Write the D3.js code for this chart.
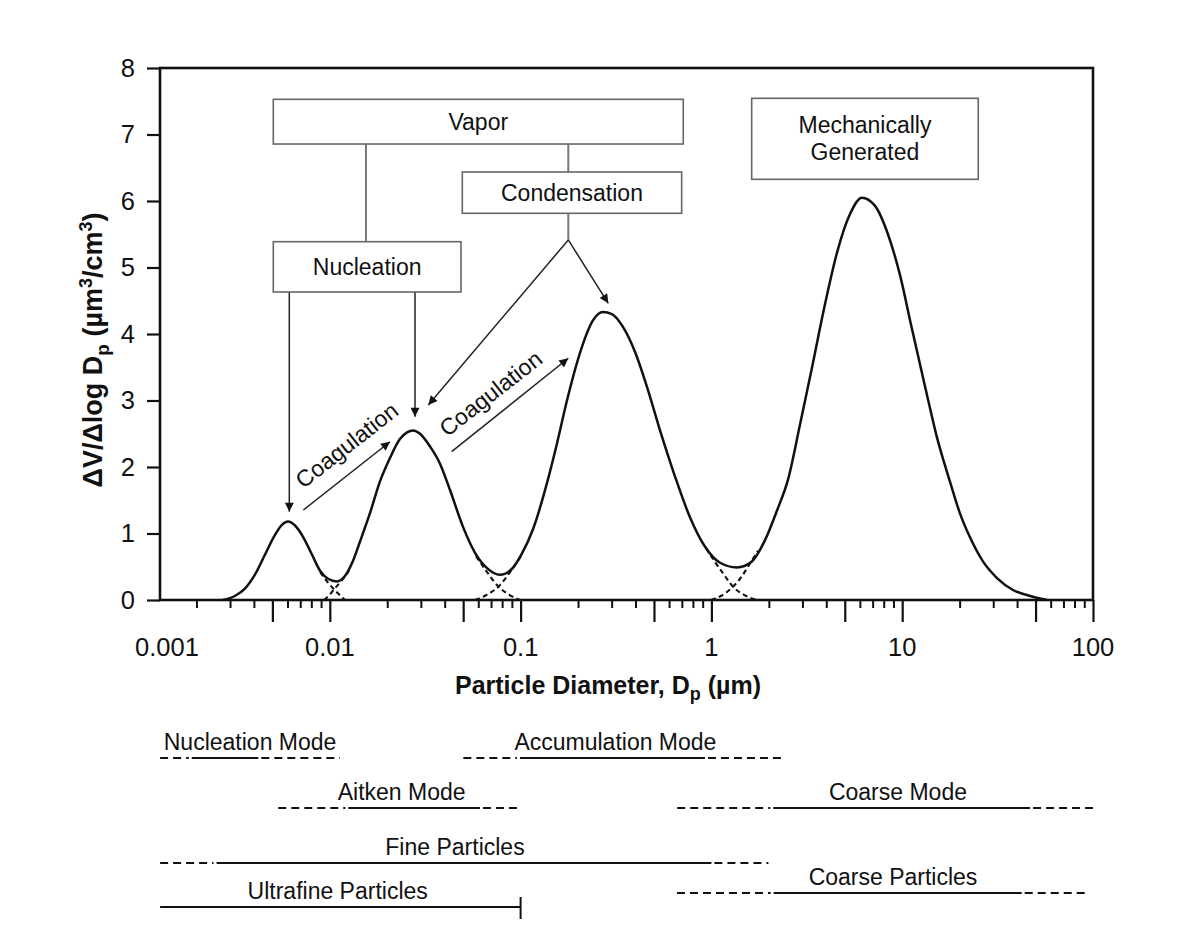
<!DOCTYPE html>
<html><head><meta charset="utf-8">
<script src="https://cdn.jsdelivr.net/npm/d3@7"></script>
<style>
body{margin:0;background:#fff}
svg{display:block}
text{font-family:"Liberation Sans",Arial,Helvetica,sans-serif;fill:#111}
</style>
</head><body>
<svg id="chart" width="1200" height="948"></svg>
<script>
// ---------------- DATA ----------------
// Total volume distribution (solid curve): diameter (µm) and ΔV/Δlog Dp
const diameters = [0.00275,0.00318,0.00359,0.00405,0.00457,0.00516,0.00561,0.00604,0.00657,0.00724,
  0.00807,0.00889,0.00978,0.0109,0.0120,0.0131,0.0144,0.0163,0.0183,0.0207,
  0.0233,0.0254,0.0273,0.0297,0.0335,0.0378,0.0427,0.0499,0.0577,0.0667,
  0.0780,0.0902,0.1017,0.116,0.139,0.155,0.175,0.205,0.239,0.270,
  0.301,0.340,0.398,0.466,0.538,0.644,0.773,0.926,1.11,1.36,
  1.63,1.91,2.21,2.52,2.91,3.37,3.94,4.55,5.32,6.15,
  7.19,8.42,9.77,11.2,13.2,15.2,17.8,20.1,22.6,26.5,
  31.4,38.1,48.4,57.4];
const volume = [0.0,0.06,0.17,0.38,0.68,0.98,1.13,1.18,1.12,0.95,
  0.68,0.44,0.32,0.28,0.36,0.56,0.88,1.32,1.78,2.14,
  2.42,2.52,2.55,2.50,2.31,2.05,1.65,1.10,0.71,0.48,
  0.38,0.47,0.70,1.06,1.81,2.35,3.0,3.72,4.20,4.33,
  4.30,4.13,3.73,3.15,2.55,1.86,1.24,0.80,0.56,0.49,
  0.58,0.90,1.35,1.81,2.63,3.50,4.45,5.22,5.80,6.05,
  5.93,5.50,4.87,4.10,3.20,2.45,1.78,1.30,0.95,0.58,
  0.33,0.15,0.05,0.0];
// Dashed individual-mode tails where modes overlap: [diameter, value]
const modeTails = [
  [[0.00889,0.42],[0.00967,0.28],[0.01052,0.16],[0.01131,0.07],[0.0120,0.0]],
  [[0.00933,0.0],[0.00991,0.07],[0.01052,0.16],[0.01145,0.28],[0.0126,0.44]],
  [[0.0584,0.66],[0.0667,0.42],[0.0761,0.21],[0.0869,0.08],[0.0993,0.0]],
  [[0.0577,0.0],[0.0667,0.08],[0.0771,0.21],[0.088,0.42],[0.1017,0.68]],
  [[0.937,0.78],[1.057,0.55],[1.178,0.36],[1.298,0.20],[1.50,0.07],[1.733,0.0]],
  [[0.995,0.0],[1.136,0.07],[1.298,0.20],[1.446,0.36],[1.593,0.55],[1.754,0.74]]
];
// Axes
const yTicks = [0,1,2,3,4,5,6,7,8];
const xLabelValues = [0.001,0.01,0.1,1,10,100];
const xLabels = ["0.001","0.01","0.1","1","10","100"];
const xMajorTicks = [0.005,0.01,0.05,0.1,0.5,1,5,10,50,100];
const xMinorTicks = [0.002,0.003,0.004,0.006,0.007,0.008,0.009,
  0.02,0.03,0.04,0.06,0.07,0.08,0.09,
  0.2,0.3,0.4,0.6,0.7,0.8,0.9,
  2,3,4,6,7,8,9,
  20,30,40,60,70,80,90];
// Annotation boxes: [dLeft, dRight, vTop, vBottom]
const boxNames = ["Vapor","Nucleation","Condensation","Mechanically|Generated"];
const boxExtents = [[0.005056,0.7121,7.529,6.857],[0.005056,0.04869,5.388,4.632],
  [0.04948,0.6984,6.436,5.815],[1.626,25.04,7.544,6.326]];
// Connector lines (no arrow): [d1,v1,d2,v2]
const connectors = [[0.01547,6.857,0.01547,5.388],[0.1778,6.857,0.1778,6.436],[0.1778,5.815,0.1778,5.414]];
// Arrows: [d1,v1,d2,v2] (head at 2nd point)
const arrows = [[0.1778,5.414,0.03283,2.932],[0.1778,5.414,0.2881,4.462],
  [0.006133,4.632,0.006133,1.328],[0.02796,4.632,0.02796,2.756],
  [0.007261,1.353,0.02067,2.380],[0.04352,2.230,0.1778,3.635]];
const coagLabelAt = [[0.01226,2.331],[0.06968,3.108]];
// Size-range bars below the axis: [dashStart, solidStart, solidEnd, dashEnd]
const rangeNames = ["Nucleation Mode","Accumulation Mode","Aitken Mode","Coarse Mode","Fine Particles","Coarse Particles","Ultrafine Particles"];
const rangeBounds = [[0.00129,0.00189,0.00422,0.0113],[0.0501,0.0993,0.925,2.33],
  [0.00537,0.0125,0.0612,0.1],[0.662,2.11,46.8,100],[0.00129,0.00255,1.0,1.99],
  [0.66,2.12,42.3,94.5],[0.00129,0.00129,0.1,0.1]];
const rangeLabelAt = [0.00382,0.314,0.0238,9.50,0.0453,8.95,0.0110];

// ---------------- LAYOUT ----------------
const svg = d3.select("#chart");
const L = 160, R = 1093, T = 68, B = 600;
const x = d3.scaleLog().domain([Math.pow(10,-2.89),100]).range([L,R]);
const y = d3.scaleLinear().domain([0,8]).range([B,T]);

// defs: arrowhead
svg.append("defs").append("marker").attr("id","ah").attr("viewBox","0 0 10 10")
  .attr("refX",10).attr("refY",5).attr("markerWidth",11).attr("markerHeight",9)
  .attr("markerUnits","userSpaceOnUse").attr("orient","auto")
  .append("path").attr("d","M0,0 L10,5 L0,10 z").attr("fill","#111");

// Y axis
const yAxis = svg.append("g").attr("transform",`translate(${L},0)`)
  .call(d3.axisLeft(y).tickValues(yTicks).tickSize(13).tickPadding(12).tickFormat(d3.format("d")));
yAxis.select(".domain").remove();
yAxis.selectAll("line").attr("stroke","#111").attr("stroke-width",2.2);
yAxis.selectAll("text").style("font-size","25.5px").style("font-family","'Liberation Sans',Arial,sans-serif").attr("fill","#111");

// X axis major and minor ticks
const xMaj = svg.append("g").attr("transform",`translate(0,${B})`)
  .call(d3.axisBottom(x).tickValues(xMajorTicks).tickSize(22).tickFormat(""));
xMaj.select(".domain").remove();
xMaj.selectAll("line").attr("stroke","#111").attr("stroke-width",2.2);
const xMin = svg.append("g").attr("transform",`translate(0,${B})`)
  .call(d3.axisBottom(x).tickValues(xMinorTicks).tickSize(8).tickFormat(""));
xMin.select(".domain").remove();
xMin.selectAll("line").attr("stroke","#111").attr("stroke-width",2);

svg.append("g").selectAll("text").data(xLabelValues).join("text")
  .attr("x",(d)=>Math.max(x(d),L+7)).attr("y",656).attr("text-anchor","middle")
  .style("font-size","25.5px").text((d,i)=>xLabels[i]);

// frame
svg.append("rect").attr("x",L).attr("y",T).attr("width",R-L).attr("height",B-T)
  .attr("fill","none").attr("stroke","#111").attr("stroke-width",2.6);

// Axis titles
const xt = svg.append("text").attr("x",608).attr("y",694).attr("text-anchor","middle")
  .style("font-size","25px").style("font-weight","bold");
xt.append("tspan").text("Particle Diameter, D");
xt.append("tspan").attr("dy",6).style("font-size","18px").text("p");
xt.append("tspan").attr("dy",-6).text(" (µm)");

const yt = svg.append("text").attr("transform","translate(102,350) rotate(-90)").attr("text-anchor","middle")
  .style("font-size","27px").style("font-weight","bold");
yt.append("tspan").text("ΔV/Δlog D");
yt.append("tspan").attr("dy",7).style("font-size","19px").text("p");
yt.append("tspan").attr("dy",-7).text(" (µm");
yt.append("tspan").attr("dy",-10).style("font-size","18px").text("3");
yt.append("tspan").attr("dy",10).text("/cm");
yt.append("tspan").attr("dy",-10).style("font-size","18px").text("3");
yt.append("tspan").attr("dy",10).text(")");

// Curves
const line = d3.line().x(d=>x(d[0])).y(d=>y(d[1])).curve(d3.curveMonotoneX);
svg.append("g").selectAll("path").data(modeTails).join("path")
  .attr("d",line).attr("fill","none").attr("stroke","#111").attr("stroke-width",2.1)
  .attr("stroke-dasharray","5,3.5");
svg.append("path").datum(d3.zip(diameters,volume)).attr("d",line)
  .attr("fill","none").attr("stroke","#111").attr("stroke-width",2.5);

// Annotation connectors and arrows
svg.append("g").selectAll("line").data(connectors).join("line")
  .attr("x1",d=>x(d[0])).attr("y1",d=>y(d[1])).attr("x2",d=>x(d[2])).attr("y2",d=>y(d[3]))
  .attr("stroke","#777").attr("stroke-width",2);
svg.append("g").selectAll("line").data(arrows).join("line")
  .attr("x1",d=>x(d[0])).attr("y1",d=>y(d[1])).attr("x2",d=>x(d[2])).attr("y2",d=>y(d[3]))
  .attr("stroke","#222").attr("stroke-width",1.5).attr("marker-end","url(#ah)");

// Boxes
const boxes = svg.append("g").selectAll("g").data(boxExtents).join("g");
boxes.append("rect").attr("x",d=>x(d[0])).attr("y",d=>y(d[2]))
  .attr("width",d=>x(d[1])-x(d[0])).attr("height",d=>y(d[3])-y(d[2]))
  .attr("fill","#fff").attr("stroke","#666").attr("stroke-width",1.6);
boxes.each(function(d,i){
  const parts = boxNames[i].split("|");
  const cx = (x(d[0])+x(d[1]))/2, cy = (y(d[2])+y(d[3]))/2;
  const t = d3.select(this).append("text").attr("text-anchor","middle").style("font-size","23px");
  parts.forEach((p,k)=>{
    t.append("tspan").attr("x",cx).attr("y",cy + 8 + (k-(parts.length-1)/2)*27).text(p);
  });
});

// Coagulation labels
svg.append("g").selectAll("text").data(coagLabelAt).join("text")
  .attr("transform",d=>`translate(${x(d[0])},${y(d[1])}) rotate(-38)`)
  .attr("text-anchor","middle").attr("dy","0.35em").style("font-size","23px").text("Coagulation");

// Size ranges
const rowY = [758,758,808,808,863,893,907];
const rows = svg.append("g").selectAll("g").data(rangeBounds).join("g");
rows.append("line").attr("x1",d=>x(d[0])).attr("x2",d=>x(d[1])-3).attr("y1",(d,i)=>rowY[i]).attr("y2",(d,i)=>rowY[i])
  .attr("stroke","#111").attr("stroke-width",2).attr("stroke-dasharray","8,5")
  .attr("display",d=>d[1]>d[0]?null:"none");
rows.append("line").attr("x1",d=>x(d[1])).attr("x2",d=>x(d[2])).attr("y1",(d,i)=>rowY[i]).attr("y2",(d,i)=>rowY[i])
  .attr("stroke","#111").attr("stroke-width",2.2);
rows.append("line").attr("x1",d=>x(d[2])+3).attr("x2",d=>x(d[3])).attr("y1",(d,i)=>rowY[i]).attr("y2",(d,i)=>rowY[i])
  .attr("stroke","#111").attr("stroke-width",2).attr("stroke-dasharray","8,5")
  .attr("display",d=>d[3]>d[2]?null:"none");
rows.filter(d=>d[3]===d[2]).append("line").attr("x1",d=>x(d[2])).attr("x2",d=>x(d[2]))
  .attr("y1",897).attr("y2",919).attr("stroke","#111").attr("stroke-width",2);
rows.append("text").attr("x",(d,i)=>x(rangeLabelAt[i])).attr("y",(d,i)=>rowY[i]-8.5)
  .attr("text-anchor","middle").style("font-size","23px").text((d,i)=>rangeNames[i]);
</script>
</body></html>
